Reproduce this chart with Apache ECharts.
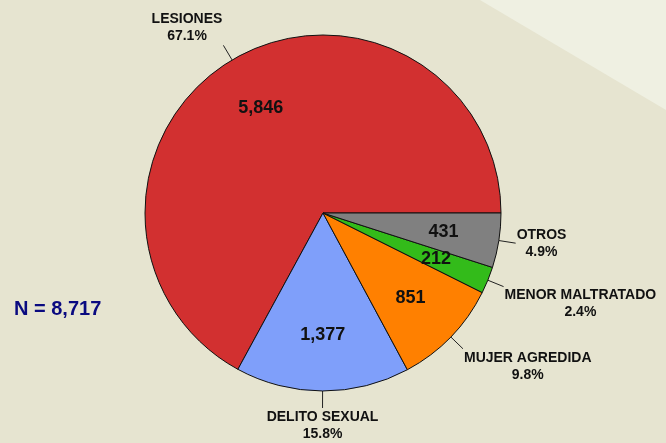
<!DOCTYPE html>
<html>
<head>
<meta charset="utf-8">
<script src="https://cdn.jsdelivr.net/npm/echarts@6/dist/echarts.min.js"></script>
<style>
  html, body { margin: 0; padding: 0; background: #e6e4d0; }
  #chart { width: 666px; height: 443px; }
</style>
</head>
<body>
<div id="chart"></div>
<script>
const categories = ["LESIONES", "DELITO SEXUAL", "MUJER AGREDIDA", "MENOR MALTRATADO", "OTROS"];
const counts = [5846, 1377, 851, 212, 431];
const sliceColors = ["#d23030", "#7f9ffa", "#ff8000", "#33bb1a", "#808080"];

const FONT = "Liberation Sans, Arial, sans-serif";
const total = counts.reduce((a, b) => a + b, 0);
const fmt = (n) => n.toLocaleString("en-US");

const pieData = categories.map((name, i) => ({
  name: name,
  value: counts[i],
  itemStyle: { color: sliceColors[i] },
}));

// put outside labels at the end of the radial leader line,
// on the side the line points to, lines centred on each other
const outerLabelLayout = (p) => {
  const pts = p.labelLinePoints;
  if (!pts) return {};
  const a = pts[0], b = pts[1];
  const dx = b[0] - a[0], dy = b[1] - a[1];
  const len = Math.hypot(dx, dy) || 1;
  const ux = dx / len, uy = dy / len;
  const w = p.labelRect.width;
  let x = b[0];
  if (Math.abs(ux) >= 0.3) x += ux > 0 ? w / 2 + 1 : -w / 2 - 1;
  const valign = Math.abs(uy) < 0.3 ? "middle" : uy > 0 ? "top" : "bottom";
  return {
    x: x,
    y: b[1] + uy,
    align: "center",
    verticalAlign: valign,
    labelLinePoints: [a, b],
  };
};

const chart = echarts.init(document.getElementById("chart"));
chart.setOption({
  backgroundColor: "#e6e4d0",
  animation: false,
  title: {
    text: "N = " + fmt(total),
    left: 9,
    top: 294,
    textStyle: { fontFamily: FONT, fontSize: 20, fontWeight: "bold", color: "#0a0a80" },
  },
  graphic: [
    {
      type: "polygon",
      z: -1,
      shape: { points: [[480, 0], [666, 0], [666, 110]] },
      style: { fill: "#eff0e2" },
    },
  ],
  series: [
    {
      type: "pie",
      center: [323, 213],
      radius: 178,
      startAngle: 0,
      clockwise: false,
      avoidLabelOverlap: false,
      percentPrecision: 1,
      itemStyle: { borderColor: "#111", borderWidth: 1 },
      label: {
        show: true,
        position: "outside",
        formatter: "{b}\n{d}%",
        fontFamily: FONT,
        fontSize: 14,
        fontWeight: "bold",
        lineHeight: 17,
        color: "#111",
      },
      labelLine: {
        show: true,
        length: 17,
        length2: 0,
        smooth: false,
        lineStyle: { color: "#222", width: 1 },
      },
      labelLayout: outerLabelLayout,
      emphasis: { disabled: true },
      data: pieData,
    },
    {
      type: "pie",
      center: [323, 213],
      radius: [60, 178],
      startAngle: 0,
      clockwise: false,
      silent: true,
      avoidLabelOverlap: false,
      itemStyle: { color: "rgba(0,0,0,0)", borderWidth: 0 },
      label: {
        show: true,
        position: "inside",
        formatter: (p) => fmt(p.value),
        fontFamily: FONT,
        fontSize: 18,
        fontWeight: "bold",
        color: "#111",
      },
      labelLine: { show: false },
      emphasis: { disabled: true },
      data: categories.map((name, i) => ({ name: name, value: counts[i] })),
    },
  ],
});
</script>
</body>
</html>
